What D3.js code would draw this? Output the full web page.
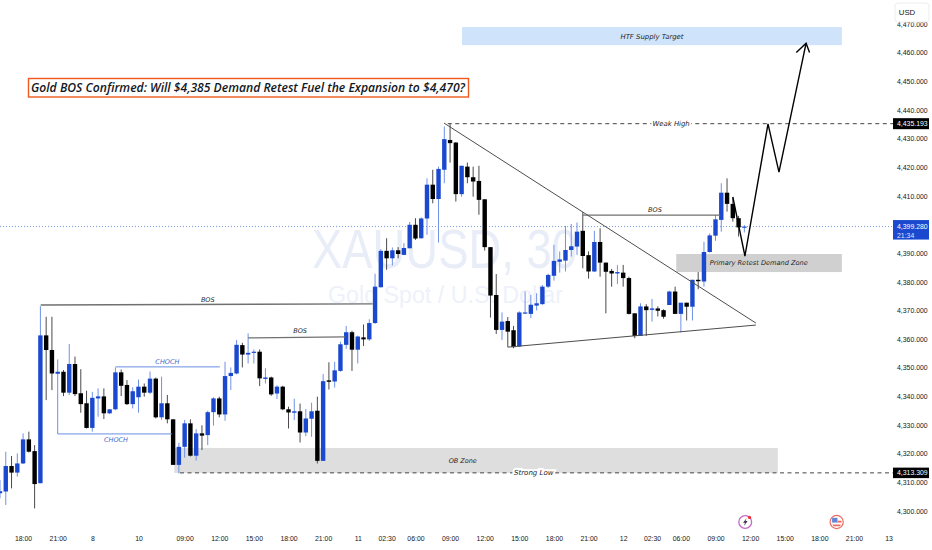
<!DOCTYPE html>
<html>
<head>
<meta charset="utf-8">
<script src="https://cdn.jsdelivr.net/npm/d3@7"></script>
<style>
html, body { margin: 0; padding: 0; background: #fff; }
svg { display: block; }
.ax text { font-family: "Liberation Sans", sans-serif; font-size: 6.9px; fill: #131722; }
.note { font-family: "DejaVu Sans", sans-serif; font-style: italic; font-size: 6.5px; fill: #1c1c1c; text-anchor: middle; }
</style>
</head>
<body>
<div id="chart"></div>
<script>
// 30 minute bars
var barOpen = [4306.2,4306.8,4315.7,4313.4,4316.6,4325.0,4320.9,4309.7,4361.3,4356.2,
  4347.9,4348.6,4341.3,4351.3,4341.1,4337.6,4329.0,4339.3,4340.0,4334.1,
  4335.5,4348.4,4344.0,4337.3,4339.7,4343.4,4341.3,4346.2,4332.7,4337.6,
  4332.0,4316.1,4322.4,4330.6,4319.3,4327.1,4326.5,4334.5,4339.3,4333.7,
  4347.1,4348.0,4357.9,4354.6,4355.2,4355.6,4346.1,4346.6,4341.0,4343.4,
  4335.5,4334.3,4334.8,4327.4,4332.2,4335.0,4317.5,4345.6,4345.2,4348.9,
  4358.0,4362.4,4356.3,4360.6,4359.9,4365.6,4378.1,4390.8,4388.2,4391.0,
  4389.4,4391.7,4399.9,4395.2,4402.1,4413.9,4408.9,4419.1,4429.5,4428.6,
  4410.6,4420.2,4416.5,4415.2,4408.8,4392.1,4375.4,4363.2,4366.3,4363.1,
  4357.4,4368.9,4368.8,4371.7,4372.2,4378.3,4382.1,4387.0,4387.4,4391.1,
  4392.3,4397.8,4389.3,4383.6,4393.9,4386.7,4383.8,4382.9,4383.2,4381.3,
  4369.0,4361.1,4371.4,4370.2,4370.7,4370.1,4371.9,4376.6,4368.8,4372.7,
  4371.3,4380.7,4380.1,4390.4,4396.1,4401.6,4411.1,4407.2,4402.2,4399.0];
var barHigh = [4310.8,4320.7,4319.2,4320.1,4327.1,4327.7,4323.0,4371.5,4367.8,4367.8,
  4352.9,4349.2,4358.3,4353.9,4349.5,4342.0,4341.6,4342.8,4342.8,4335.5,
  4350.1,4349.4,4345.7,4343.2,4345.9,4344.5,4348.7,4346.6,4346.9,4340.5,
  4332.0,4323.8,4331.8,4332.0,4328.6,4329.9,4335.0,4339.7,4339.9,4352.1,
  4350.1,4359.7,4358.7,4362.0,4356.4,4356.4,4349.8,4346.9,4343.9,4343.7,
  4336.4,4339.2,4337.5,4335.6,4337.8,4339.9,4347.8,4351.9,4352.1,4359.1,
  4364.6,4362.9,4361.2,4365.1,4366.9,4382.8,4391.4,4395.2,4392.0,4392.1,
  4393.5,4400.9,4402.2,4402.5,4416.1,4419.1,4420.2,4434.2,4435.2,4428.8,
  4420.5,4421.6,4420.2,4420.5,4408.8,4392.1,4382.7,4369.3,4367.7,4364.6,
  4369.7,4376.6,4375.4,4376.0,4378.9,4382.8,4392.9,4390.6,4399.5,4400.2,
  4400.7,4404.3,4390.6,4397.8,4398.7,4386.7,4384.5,4385.8,4385.9,4381.8,
  4369.0,4372.5,4372.2,4374.0,4371.4,4370.4,4376.9,4378.3,4372.7,4372.7,
  4380.7,4383.4,4394.0,4396.9,4403.3,4414.4,4416.1,4409.5,4403.0,4399.8];
var barLow = [4304.4,4302.1,4307.9,4312.0,4316.4,4320.4,4300.9,4309.7,4338.7,4342.2,
  4340.5,4340.1,4340.5,4340.1,4334.3,4328.8,4327.7,4332.9,4332.1,4333.8,
  4335.2,4340.1,4337.0,4335.8,4334.3,4339.9,4340.8,4332.3,4331.8,4330.6,
  4316.1,4313.1,4318.6,4319.0,4317.6,4321.3,4323.0,4329.8,4332.7,4331.5,
  4342.2,4347.7,4350.1,4351.5,4351.5,4343.6,4344.5,4340.2,4339.1,4335.2,
  4328.8,4331.7,4323.9,4326.1,4325.9,4316.6,4317.5,4342.4,4343.1,4348.6,
  4356.6,4348.9,4351.5,4357.6,4359.4,4365.3,4378.0,4384.2,4385.7,4388.2,
  4389.4,4391.7,4394.6,4395.1,4396.4,4407.4,4393.7,4414.4,4421.6,4408.0,
  4409.7,4414.4,4409.7,4403.4,4390.9,4367.5,4361.8,4359.7,4357.2,4356.8,
  4357.2,4368.9,4367.3,4370.0,4372.0,4377.8,4380.4,4383.2,4383.6,4388.8,
  4389.4,4384.7,4381.1,4383.4,4381.8,4369.0,4378.3,4379.2,4378.3,4368.6,
  4360.3,4361.1,4361.1,4366.1,4367.9,4367.1,4371.9,4368.8,4362.3,4366.5,
  4366.5,4377.4,4378.3,4390.2,4394.3,4397.5,4404.5,4401.0,4395.8,4397.2];
var barClose = [4306.9,4315.7,4313.4,4316.6,4325.0,4320.7,4309.4,4361.3,4356.2,4348.0,
  4348.6,4341.3,4351.3,4340.8,4337.3,4329.0,4339.5,4340.0,4334.1,4335.5,
  4348.4,4343.7,4337.3,4341.8,4343.4,4341.3,4346.2,4332.7,4337.6,4332.0,
  4316.1,4322.4,4330.6,4319.3,4327.1,4326.3,4334.5,4339.3,4333.7,4347.1,
  4348.2,4358.0,4354.6,4355.2,4355.6,4346.3,4346.6,4340.7,4343.4,4335.5,
  4334.4,4334.8,4327.4,4332.3,4334.8,4317.5,4345.3,4345.1,4349.1,4358.2,
  4362.4,4356.3,4360.9,4359.9,4365.6,4378.3,4390.8,4388.2,4391.0,4389.7,
  4391.8,4399.9,4395.1,4402.1,4413.9,4408.9,4419.4,4429.8,4428.4,4410.6,
  4420.5,4416.5,4415.0,4408.6,4392.1,4375.2,4363.2,4366.1,4362.6,4357.2,
  4369.3,4369.3,4372.0,4372.5,4378.3,4382.4,4387.3,4387.8,4391.1,4392.4,
  4397.5,4389.0,4383.6,4393.9,4386.7,4383.5,4382.9,4383.4,4381.3,4368.8,
  4361.1,4371.4,4370.1,4370.7,4369.9,4367.8,4376.6,4368.8,4372.7,4371.3,
  4380.7,4380.2,4390.4,4396.2,4401.8,4411.1,4407.2,4402.2,4399.0,4399.28];

// time axis: bar number and label
var timeTickBars = [4,10,16,24,32,38,44,50,56,62,67,72,78,84,90,96,102,108,113,118,124,130,136,142,148,154];
var timeTickLabels = ["18:00","21:00","8","10","09:00","12:00","15:00","18:00","21:00","11","02:30","06:00","09:00","12:00","15:00","18:00","21:00","12","02:30","06:00","09:00","12:00","15:00","18:00","21:00","13"];
var priceTicks = [4300,4310,4320,4330,4340,4350,4360,4370,4380,4390,4400,4410,4420,4430,4440,4450,4460,4470];

var lastPrice = 4399.28, weakHigh = 4435.193, strongLow = 4313.309;

// zones: bar from, bar to, price top, price bottom
var zoneBars = [[80.07,145.9],[117.2,145.9],[30.2,134.8]];
var zonePrices = [[4468.9,4462.6],[4389.7,4383.4],[4322.0,4313.3]];
var zoneColors = ["#cfe3fb","#d0d0d0","#dedede"];

// drawn lines as [bar, price]
var bosLines = [
  [[7.05,4371.9],[64.6,4372.3]],
  [[43,4360.4],[59.8,4360.8]],
  [[101,4403.3],[124.8,4403.3]]
];
var chochLines = [
  [[20,4350.3],[38.1,4350.3]],
  [[10,4340.5],[10,4326.9],[29.8,4326.9]]
];
var trendLines = [
  [[76.95,4435.4],[131,4365.6]],
  [[88,4357.2],[131,4364.9]]
];
var forecastPath = [[127,4409.6],[129.1,4389],[133.1,4435.1],[135,4418.3],[139.7,4463.3]];
var forecastHead = [[138,4460],[139.7,4463.3],[140.3,4460]];

// notes: text, bar, price, font size
var notes = [
  ["BOS",36,4373.9,6.5],["BOS",52,4363.0,6.5],["BOS",113.5,4405.3,6.5],
  ["HTF Supply Target",113,4465.7,6.9],["Weak High",116.3,4435.193,6.9],["Primary Retest Demand Zone",131.5,4386.5,6.6],
  ["OB Zone",80.2,4317.6,6.5],["Strong Low",92.5,4313.309,7]
];
var chochNotes = [["CHOCH",29,4352.2],["CHOCH",20.1,4324.8]];

var title = "Gold BOS Confirmed: Will $4,385 Demand Retest Fuel the Expansion to $4,470?";

var width = 932, height = 550;
var blue = "#1a49cf", wickBlue = "#6f92e6", black = "#000", wickBlack = "#4a4a4a";

var svg = d3.select("#chart").append("svg").attr("width", width).attr("height", height);
var x = d3.scaleLinear().domain([0, 161]).range([0, 929]);
var y = d3.scaleLinear().domain([4300, 4460]).range([511, 52.6]);
var line = d3.line().x(function (d) { return x(d[0]); }).y(function (d) { return y(d[1]); });
var plotRight = 893;

// watermark
svg.append("text").attr("x", 312).attr("y", 268).attr("textLength", 265).attr("lengthAdjust", "spacingAndGlyphs")
  .style("font-family", "'Liberation Sans', sans-serif").style("font-size", "55px").style("fill", "#e9edf8").text("XAUUSD, 30");
svg.append("text").attr("x", 328).attr("y", 303).attr("textLength", 235).attr("lengthAdjust", "spacingAndGlyphs")
  .style("font-family", "'Liberation Sans', sans-serif").style("font-size", "23px").style("fill", "#eef1fa").text("Gold Spot / U.S. Dollar");

// zones
svg.append("g").selectAll("rect").data(zoneBars).enter().append("rect")
  .attr("x", function (d) { return x(d[0]); })
  .attr("width", function (d) { return x(d[1]) - x(d[0]); })
  .attr("y", function (d, i) { return y(zonePrices[i][0]); })
  .attr("height", function (d, i) { return y(zonePrices[i][1]) - y(zonePrices[i][0]); })
  .attr("fill", function (d, i) { return zoneColors[i]; });

// last price line
svg.append("line").attr("x1", 0).attr("x2", plotRight).attr("y1", y(lastPrice)).attr("y2", y(lastPrice))
  .attr("stroke", "#5b7fd8").attr("stroke-width", 0.8).attr("stroke-dasharray", "1 2");

// weak high / strong low
svg.append("line").attr("x1", x(77.6)).attr("x2", plotRight).attr("y1", y(weakHigh)).attr("y2", y(weakHigh))
  .attr("stroke", "#444").attr("stroke-width", 1).attr("stroke-dasharray", "4 3.5");
svg.append("line").attr("x1", x(31.2)).attr("x2", plotRight).attr("y1", y(strongLow)).attr("y2", y(strongLow))
  .attr("stroke", "#444").attr("stroke-width", 1).attr("stroke-dasharray", "4 3.5");

// candles
var candles = svg.append("g").selectAll("g").data(barOpen).enter().append("g");
candles.append("line")
  .attr("x1", function (d, i) { return x(i); }).attr("x2", function (d, i) { return x(i); })
  .attr("y1", function (d, i) { return y(barHigh[i]); }).attr("y2", function (d, i) { return y(barLow[i]); })
  .attr("stroke", function (d, i) { return barClose[i] >= d ? wickBlue : wickBlack; }).attr("stroke-width", 1);
candles.append("rect")
  .attr("x", function (d, i) { return x(i) - 2.2; }).attr("width", 4.4)
  .attr("y", function (d, i) { return y(Math.max(d, barClose[i])); })
  .attr("height", function (d, i) { return Math.max(1.2, Math.abs(y(d) - y(barClose[i]))); })
  .attr("fill", function (d, i) { return barClose[i] >= d ? blue : black; });

// BOS, CHOCH and the triangle
svg.append("g").selectAll("path").data(bosLines).enter().append("path").attr("d", line)
  .attr("fill", "none").attr("stroke", "#707070").attr("stroke-width", 1.3);
svg.append("g").selectAll("path").data(chochLines).enter().append("path").attr("d", line)
  .attr("fill", "none").attr("stroke", "#6a8fe4").attr("stroke-width", 1);
svg.append("g").selectAll("path").data(trendLines).enter().append("path").attr("d", line)
  .attr("fill", "none").attr("stroke", "#4d4d4d").attr("stroke-width", 1);

// projected move
svg.append("path").attr("d", line(forecastPath)).attr("fill", "none").attr("stroke", "#000").attr("stroke-width", 1.4);
svg.append("path").attr("d", line(forecastHead)).attr("fill", "none").attr("stroke", "#000").attr("stroke-width", 1.4);

// notes
svg.append("g").selectAll("text").data(notes).enter().append("text").attr("class", "note")
  .attr("x", function (d) { return x(d[1]); }).attr("y", function (d) { return y(d[2]); }).attr("dy", ".35em")
  .style("font-size", function (d) { return d[3] + "px"; })
  .style("paint-order", function (d) { return d[0] == "Weak High" || d[0] == "Strong Low" ? "stroke" : null; })
  .style("stroke", function (d) { return d[0] == "Weak High" || d[0] == "Strong Low" ? "#fff" : null; })
  .style("stroke-width", function (d) { return d[0] == "Weak High" || d[0] == "Strong Low" ? "4px" : null; })
  .text(function (d) { return d[0]; });
svg.append("g").selectAll("text").data(chochNotes).enter().append("text").attr("class", "note")
  .attr("x", function (d) { return x(d[1]); }).attr("y", function (d) { return y(d[2]); }).attr("dy", ".35em")
  .style("fill", "#3f68c8").text(function (d) { return d[0]; });

// title box
svg.append("rect").attr("x", 28.5).attr("y", 78.5).attr("width", 440).attr("height", 18.5)
  .attr("fill", "#fff").attr("stroke", "#f0591c").attr("stroke-width", 1.4);
svg.append("text").attr("x", 31).attr("y", 92).attr("textLength", 434).attr("lengthAdjust", "spacingAndGlyphs")
  .style("font-family", "'Open Sans', sans-serif").style("font-style", "italic").style("font-weight", 600)
  .style("font-size", "12px").style("fill", "#131722").text(title);

// axes
var priceAxis = svg.append("g").attr("class", "ax").attr("transform", "translate(893,0)")
  .call(d3.axisRight(y).tickValues(priceTicks).tickSize(0).tickPadding(4).tickFormat(d3.format(",.3f")));
priceAxis.select(".domain").remove();

var timeAxis = svg.append("g").attr("class", "ax").attr("transform", "translate(0,530)")
  .call(d3.axisBottom(x).tickValues(timeTickBars).tickSize(0).tickPadding(6)
    .tickFormat(function (d, i) { return timeTickLabels[i]; }));
timeAxis.select(".domain").remove();

// USD button
svg.append("rect").attr("x", 895).attr("y", 3).attr("width", 34).attr("height", 19).attr("rx", 3)
  .attr("fill", "#fff").attr("stroke", "#ededed");
svg.append("text").attr("x", 907).attr("y", 15).attr("text-anchor", "middle")
  .style("font-family", "'Liberation Sans', sans-serif").style("font-size", "7.8px").style("fill", "#131722").text("USD");

// price labels on the axis
function priceLabel(price, fill, h, second) {
  var g = svg.append("g");
  g.append("rect").attr("x", 893).attr("width", 36).attr("height", h)
    .attr("y", second ? y(price) - 6.5 : y(price) - h / 2).attr("fill", fill);
  g.append("text").attr("x", 897).attr("y", y(price)).attr("dy", ".35em")
    .style("font-family", "'Liberation Sans', sans-serif").style("font-size", "6.9px").style("fill", "#fff")
    .text(d3.format(",.3f")(price));
  if (second) g.append("text").attr("x", 897).attr("y", y(price) + 9).attr("dy", ".35em")
    .style("font-family", "'Liberation Sans', sans-serif").style("font-size", "6.9px").style("fill", "#dfe6fa").text(second);
}
priceLabel(weakHigh, "#000", 11);
priceLabel(strongLow, "#000", 10.5);
priceLabel(lastPrice, "#1a49cf", 19.5, "21:34");

// event markers
var bolt = svg.append("g").attr("transform", "translate(" + x(129.15) + ",522)");
bolt.append("circle").attr("r", 6.4).attr("fill", "#fff").attr("stroke", "#c56bc6").attr("stroke-width", 1.3);
bolt.append("path").attr("d", "M1.5,-4L-2.2,0.8H-0.2L-1.3,4L2.4,-0.9H0.3Z").attr("fill", "#3a3550");
bolt.append("circle").attr("cx", 4.3).attr("cy", -4.6).attr("r", 1.6).attr("fill", "#f03030");

var flag = svg.append("g").attr("transform", "translate(" + x(145) + ",522)");
flag.append("circle").attr("r", 6.6).attr("fill", "#fff").attr("stroke", "#ef6a62").attr("stroke-width", 1.2);
flag.append("path").attr("d", "M-4.6,-4.2H0.8V0.6H-4.6Z").attr("fill", "#6486d8");
flag.append("path").attr("d", "M0.8,-1.3H4.8V0.6H0.8Z").attr("fill", "#ef6a62");
flag.append("path").attr("d", "M-4.4,2.4H4.4L3,4.2H-3Z").attr("fill", "#ef6a62");
</script>
</body>
</html>
